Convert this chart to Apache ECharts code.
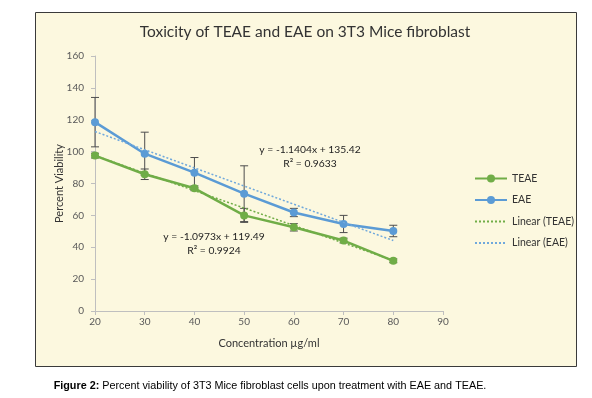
<!DOCTYPE html>
<html>
<head>
<meta charset="utf-8">
<script src="https://cdn.jsdelivr.net/npm/echarts@6/dist/echarts.min.js"></script>
<style>
  html, body { margin: 0; padding: 0; background: #fff; }
  #chart { width: 592px; height: 398px; }
</style>
</head>
<body>
<div id="chart"></div>
<script>
// concentrations (µg/ml)
const conc = [20, 30, 40, 50, 60, 70, 80];
// percent viability
const teae = [97.5, 85.8, 77, 60, 52.5, 44.2, 31.5];
const eae = [118.5, 98.7, 86.8, 73.6, 61.8, 54.6, 50.2];
// error bar half-widths
const teaeErr = [1.5, 3.3, 1.5, 4.4, 2.3, 1.5, 1.2];
const eaeErr = [15.5, 13.5, 9.5, 17.5, 2.6, 5.4, 3.6];
// linear trend end points (x = 20 and x = 80)
const trendX = [20, 80];
const teaeTrend = [97.5, 31.7];
const eaeTrend = [112.6, 44.2];
const yTicks = [0, 20, 40, 60, 80, 100, 120, 140, 160];

const GREEN = "#70AD47";
const BLUE = "#5B9BD5";
const LIGHTBLUE = "#6FA8DC";
const LABEL = "#595959";
const FONT = "Lato";

const chart = echarts.init(document.getElementById("chart"), null, { renderer: "canvas" });

const pairs = (xs, ys) => xs.map((x, i) => [x, ys[i]]);
const errData = (ys, es) => conc.map((x, i) => [x, ys[i] - es[i], ys[i] + es[i]]);

// error bars drawn through the axes
const renderErr = (params, api) => {
  const x = api.value(0);
  const lo = api.coord([x, api.value(1)]);
  const hi = api.coord([x, api.value(2)]);
  const w = 4;
  const style = { stroke: "#4d4d4d", lineWidth: 1 };
  return {
    type: "group",
    children: [
      { type: "line", shape: { x1: hi[0], y1: hi[1], x2: lo[0], y2: lo[1] }, style },
      { type: "line", shape: { x1: hi[0] - w, y1: hi[1], x2: hi[0] + w, y2: hi[1] }, style },
      { type: "line", shape: { x1: lo[0] - w, y1: lo[1], x2: lo[0] + w, y2: lo[1] }, style }
    ]
  };
};

const option = {
  backgroundColor: "#fff",
  animation: false,
  textStyle: { fontFamily: FONT },
  graphic: [
    {
      type: "rect",
      z: -10,
      shape: { x: 35.5, y: 12.5, width: 541, height: 354 },
      style: { fill: "#FCF8DF", stroke: "#3a3a3a", lineWidth: 1 }
    },
    {
      type: "text",
      x: 305,
      y: 32,
      style: { text: "Toxicity of TEAE and EAE on 3T3 Mice fibroblast", fill: "#333", fontSize: 15.5, fontFamily: FONT, align: "center", verticalAlign: "middle" }
    },
    {
      type: "text",
      x: 310,
      y: 157,
      style: { text: "y = -1.1404x + 135.42\nR² = 0.9633", fill: "#222", fontSize: 10.3, fontFamily: FONT, align: "center", verticalAlign: "middle", lineHeight: 14 }
    },
    {
      type: "text",
      x: 214,
      y: 244,
      style: { text: "y = -1.0973x + 119.49\nR² = 0.9924", fill: "#222", fontSize: 10.3, fontFamily: FONT, align: "center", verticalAlign: "middle", lineHeight: 14 }
    },
    {
      type: "text",
      x: 270,
      y: 386,
      style: {
        text: "{b|Figure 2:} Percent viability of 3T3 Mice fibroblast cells upon treatment with EAE and TEAE.",
        align: "center",
        verticalAlign: "middle",
        fill: "#000",
        fontSize: 10.8,
        fontFamily: "Liberation Sans",
        rich: { b: { fontWeight: "bold", fontSize: 10.8, fontFamily: "Liberation Sans" } }
      }
    }
  ],
  grid: { left: 95, right: 149, top: 56, bottom: 87 },
  legend: {
    orient: "vertical",
    left: 469,
    top: 168,
    itemWidth: 32,
    itemHeight: 10,
    itemGap: 10.5,
    textStyle: { color: "#333", fontSize: 10.5, fontFamily: FONT },
    data: [
      "TEAE",
      "EAE",
      { name: "Linear (TEAE)", itemStyle: { opacity: 0 } },
      { name: "Linear (EAE)", itemStyle: { opacity: 0 } }
    ]
  },
  xAxis: {
    type: "value",
    min: 20,
    max: 90,
    interval: 10,
    name: "Concentration µg/ml",
    nameLocation: "middle",
    nameGap: 27,
    nameTextStyle: { color: "#333", fontSize: 11, fontFamily: FONT },
    axisLine: { lineStyle: { color: "#BFBFBF" } },
    axisTick: { show: true, length: 4, lineStyle: { color: "#BFBFBF" } },
    axisLabel: { color: LABEL, fontSize: 10, margin: 6 },
    splitLine: { show: false }
  },
  yAxis: {
    type: "value",
    min: yTicks[0],
    max: yTicks[yTicks.length - 1],
    interval: 20,
    name: "Percent Viability",
    nameLocation: "middle",
    nameGap: 30,
    nameMoveOverlap: false,
    nameTextStyle: { color: "#333", fontSize: 11, fontFamily: FONT },
    axisLine: { show: true, lineStyle: { color: "#BFBFBF" } },
    axisTick: { show: true, length: 4, lineStyle: { color: "#BFBFBF" } },
    axisLabel: { color: LABEL, fontSize: 10, margin: 11 },
    splitLine: { show: false }
  },
  series: [
    {
      name: "TEAE",
      type: "line",
      data: pairs(conc, teae),
      symbol: "circle",
      symbolSize: 8,
      color: GREEN,
      lineStyle: { width: 2.5, color: GREEN },
      z: 3
    },
    {
      name: "EAE",
      type: "line",
      data: pairs(conc, eae),
      symbol: "circle",
      symbolSize: 8,
      color: BLUE,
      lineStyle: { width: 2.5, color: BLUE },
      z: 3
    },
    {
      name: "Linear (TEAE)",
      type: "line",
      data: pairs(trendX, teaeTrend),
      symbol: "none",
      color: GREEN,
      lineStyle: { width: 1.5, type: [2, 2], color: GREEN },
      z: 4
    },
    {
      name: "Linear (EAE)",
      type: "line",
      data: pairs(trendX, eaeTrend),
      symbol: "none",
      color: LIGHTBLUE,
      lineStyle: { width: 1.5, type: [2, 2], color: LIGHTBLUE },
      z: 4
    },
    {
      type: "custom",
      renderItem: renderErr,
      data: errData(eae, eaeErr),
      encode: { x: 0, y: [1, 2] },
      z: 2
    },
    {
      type: "custom",
      renderItem: renderErr,
      data: errData(teae, teaeErr),
      encode: { x: 0, y: [1, 2] },
      z: 2
    }
  ]
};

chart.setOption(option);
</script>
</body>
</html>
